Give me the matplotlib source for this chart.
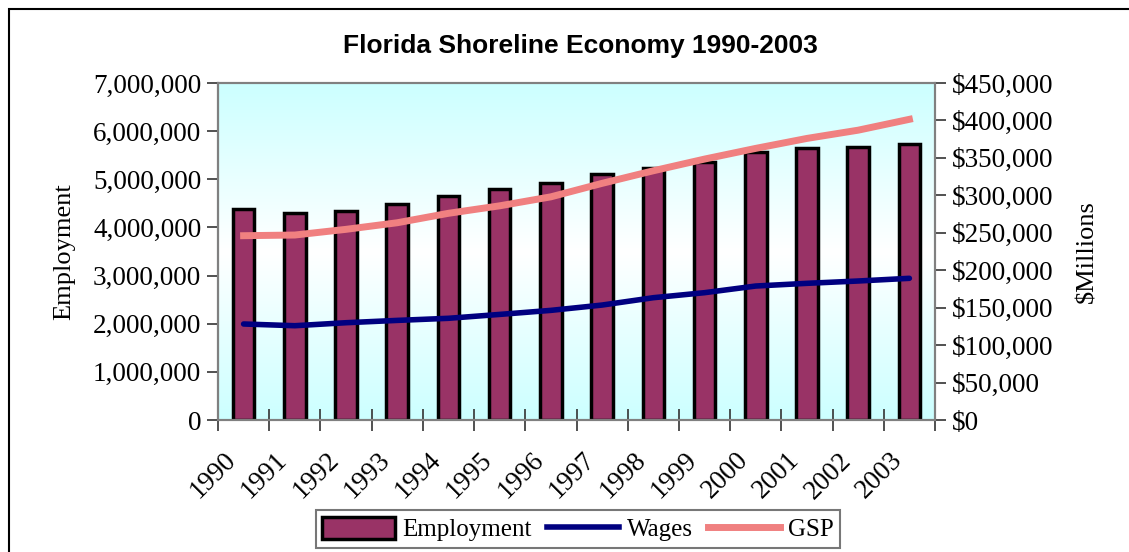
import numpy as np
import matplotlib.pyplot as plt
from matplotlib.patches import Rectangle
from matplotlib.lines import Line2D
from matplotlib.ticker import FuncFormatter
import matplotlib.transforms as mtransforms

# Datos
anios = ["1990", "1991", "1992", "1993", "1994", "1995", "1996",
         "1997", "1998", "1999", "2000", "2001", "2002", "2003"]
empleo = [4380000, 4290000, 4340000, 4490000, 4650000, 4790000, 4920000,
          5100000, 5240000, 5360000, 5570000, 5640000, 5670000, 5730000]
salarios = [128200, 125900, 129900, 133000, 135800, 141000, 146400,
            153500, 163300, 170000, 178900, 182500, 185600, 189200]
gsp = [246100, 247000, 254600, 263400, 276000, 286000, 298000,
       316000, 332800, 348400, 362700, 376000, 387000, 401500]

serif = "Liberation Serif"
sans = "Liberation Sans"

fig = plt.figure(figsize=(11.29, 5.52), dpi=100)
ax = fig.add_axes([218 / 1129, 1 - 420 / 552, (935 - 218) / 1129, (420 - 83) / 552])
x = np.arange(len(anios))

# Fondo degradado cian-blanco-cian
t = np.linspace(-1, 1, 256)
w = np.abs(t)[:, None]
cian = np.array([204, 255, 255]) / 255
blanco = np.array([1.0, 1.0, 1.0])
grad = (1 - w)[..., None] * blanco + w[..., None] * cian
ax.imshow(grad, extent=[-0.5, len(anios) - 0.5, 0, 7000000], aspect="auto",
          zorder=0, interpolation="bilinear")

ax.bar(x, empleo, width=0.42, color="#993366", edgecolor="black", linewidth=2.5, zorder=2)
ax.set_xlim(-0.5, len(anios) - 0.5)
ax.set_ylim(0, 7000000)
ax.set_yticks(np.arange(0, 7000001, 1000000))
ax.yaxis.set_major_formatter(FuncFormatter(lambda v, p: f"{int(v):,}"))

ax2 = ax.twinx()
ax2.plot(x, salarios, color="#000080", linewidth=4, solid_capstyle="round", zorder=3)
ax2.plot(x, gsp, color="#F08080", linewidth=5, zorder=3)
ax2.set_ylim(0, 450000)
ax2.set_yticks(np.arange(0, 450001, 50000))
ax2.yaxis.set_major_formatter(FuncFormatter(lambda v, p: f"${int(v):,}"))

# Ejes x: marcas en los límites, etiquetas en los centros
ax.set_xticks(np.arange(-0.5, len(anios)), minor=False)
ax.set_xticklabels([])
ax.set_xticks(x, minor=True)
ax.set_xticklabels(anios, minor=True, rotation=45, ha="right", va="top",
                   rotation_mode="anchor", fontsize=19.5, family=serif)
ax.tick_params(axis="x", which="minor", length=0, pad=20)
ax.tick_params(axis="x", which="major", direction="inout", length=16, width=1.2, color="#333333")
offset = mtransforms.ScaledTranslation(-20 / 100, 0, fig.dpi_scale_trans)
for lab in ax.get_xticklabels(minor=True):
    lab.set_transform(lab.get_transform() + offset)

ax.tick_params(axis="y", direction="out", length=8, width=1.2, color="#333333", labelsize=19.5, pad=4)
ax2.tick_params(axis="y", direction="out", length=8, width=1.2, color="#333333", labelsize=19.5, pad=4)
for lab in ax.get_yticklabels() + ax2.get_yticklabels():
    lab.set_family(serif)

for a in (ax, ax2):
    for s in a.spines.values():
        s.set_color("#808080")
        s.set_linewidth(1.5)
ax.spines["left"].set_color("#333333")

fig.text(64 / 1129, 1 - 252 / 552, "Employment", rotation=90, ha="center", va="center",
         fontsize=19, family=serif)
fig.text(1087 / 1129, 1 - 252 / 552, "$Millions", rotation=90, ha="center", va="center",
         fontsize=19, family=serif)
fig.text(580 / 1129, 1 - 46 / 552, "Florida Shoreline Economy 1990-2003", ha="center",
         va="center", fontsize=19, fontweight="bold", family=sans)

# Leyenda
handles = [Rectangle((0, 0), 1, 1, facecolor="#993366", edgecolor="black", linewidth=2.5),
           Line2D([], [], color="#000080", linewidth=4),
           Line2D([], [], color="#F08080", linewidth=5)]
leg = fig.legend(handles, ["Employment", "Wages", "GSP"], loc="center",
                 bbox_to_anchor=(578 / 1129, 1 - 529 / 552), ncol=3, frameon=True,
                 fancybox=False, prop={"family": serif, "size": 18},
                 handlelength=2.9, handletextpad=0.3, columnspacing=0.6,
                 borderpad=0.25, handleheight=1.0, borderaxespad=0)
leg.get_frame().set_edgecolor("#555555")
leg.get_frame().set_linewidth(1.5)

# Marco de la figura
fig.patches.append(Rectangle((9 / 1129, -0.1), 1.1, 1 - 9 / 552 + 0.1, transform=fig.transFigure,
                             fill=False, edgecolor="black", linewidth=1.5))

fig.savefig("out.png", dpi=100)
